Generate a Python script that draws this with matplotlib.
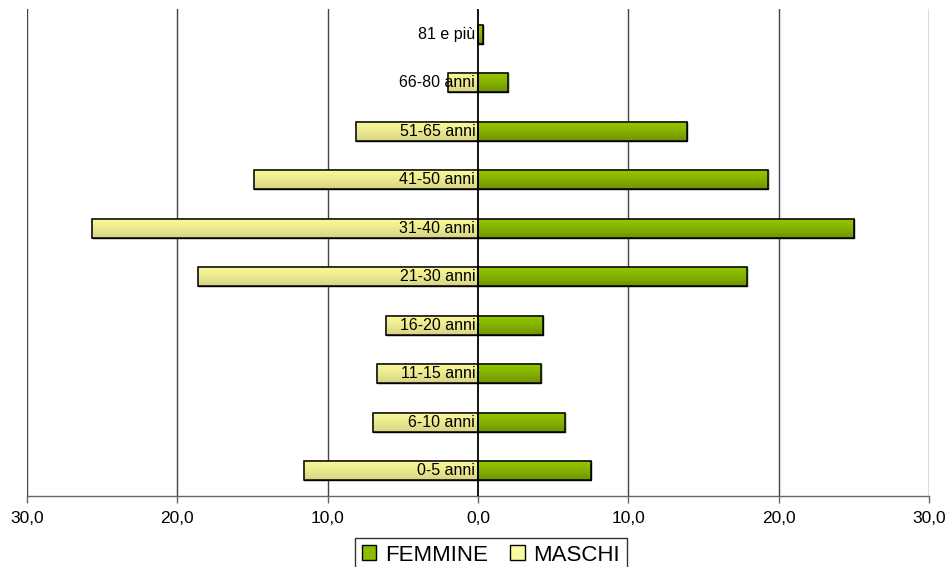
import numpy as np
import matplotlib
matplotlib.use("Agg")
import matplotlib.pyplot as plt
from matplotlib.colors import LinearSegmentedColormap
from matplotlib.patches import Patch

plt.rcParams['font.family'] = ['Liberation Sans', 'DejaVu Sans']

# Age classes, bottom to top
categories = ["0-5 anni", "6-10 anni", "11-15 anni", "16-20 anni", "21-30 anni",
              "31-40 anni", "41-50 anni", "51-65 anni", "66-80 anni", "81 e più"]
femmine = [7.5, 5.8, 4.2, 4.3, 17.9, 25.0, 19.3, 13.9, 2.0, 0.3]
maschi = [11.6, 7.0, 6.7, 6.1, 18.6, 25.7, 14.9, 8.1, 2.0, 0.0]
ticks = [-30, -20, -10, 0, 10, 20, 30]
tick_labels = ["30,0", "20,0", "10,0", "0,0", "10,0", "20,0", "30,0"]

fig = plt.figure(figsize=(9.49, 5.67), dpi=100)
ax = fig.add_axes([27 / 949, 1 - 496 / 567, (929 - 27) / 949, (496 - 9) / 567])

y = np.arange(len(categories))
h = 0.4
bars_f = ax.barh(y, femmine, height=h, left=0, color="#8cbc00",
                 edgecolor="black", linewidth=1.0, zorder=3)
bars_m = ax.barh(y, [-v for v in maschi], height=h, left=0, color="#f2ef8c",
                 edgecolor="black", linewidth=1.0, zorder=3)

# Vertical gradient fill inside each bar (lighter at the top)
cmap_f = LinearSegmentedColormap.from_list("f", ["#6f9300", "#86b300", "#99c900"])
cmap_m = LinearSegmentedColormap.from_list("m", ["#d6d385", "#ecea90", "#fcfa98"])
grad = np.linspace(0, 1, 64).reshape(-1, 1)
for bars, cmap in ((bars_f, cmap_f), (bars_m, cmap_m)):
    for p in bars.patches:
        x0, y0 = p.get_x(), p.get_y()
        w, hh = p.get_width(), p.get_height()
        if w == 0:
            continue
        im = ax.imshow(grad, cmap=cmap, aspect="auto", origin="lower",
                       extent=(min(x0, x0 + w), max(x0, x0 + w), y0, y0 + hh),
                       zorder=3.5, interpolation="bilinear")
        im.set_clip_path(p)
        # outline on top of the gradient
        ax.add_patch(plt.Rectangle((x0, y0), w, hh, fill=False,
                                   edgecolor="black", linewidth=1.1, zorder=4))

for yi, lab in zip(y, categories):
    ax.annotate(lab, xy=(0, yi), xytext=(-2, 0), textcoords="offset points",
                ha="right", va="center", fontsize=11.5, color="black", zorder=6)

ax.set_xlim(-30, 30)
ax.set_ylim(-0.52, 9.52)
ax.set_xticks(ticks)
ax.set_xticklabels(tick_labels, fontsize=12.5)
ax.set_yticks([])
for t in ticks:
    if t == 0:
        ax.axvline(t, color="black", linewidth=1.3, zorder=5)
    else:
        ax.axvline(t, color="#444444", linewidth=1.0, zorder=2)

for s in ("top", "left", "right"):
    ax.spines[s].set_visible(False)
ax.spines["bottom"].set_color("#666666")
ax.spines["bottom"].set_linewidth(1.0)
ax.tick_params(axis="x", direction="out", length=5, width=1.0, color="#666666",
               pad=6)

handles = [Patch(facecolor="#8cbc00", edgecolor="black", label="FEMMINE"),
           Patch(facecolor="#fafaa0", edgecolor="black", label="MASCHI")]
leg = fig.legend(handles=handles, loc="upper center",
                 bbox_to_anchor=(491 / 949, 1 - 538 / 567), ncol=2,
                 fontsize=16, frameon=True, fancybox=False, handlelength=0.65,
                 handleheight=0.65, handletextpad=0.4, columnspacing=1.0,
                 borderpad=0.3, borderaxespad=0)
leg.get_frame().set_edgecolor("black")
leg.get_frame().set_linewidth(1.0)

fig.savefig("out.png", dpi=100)
